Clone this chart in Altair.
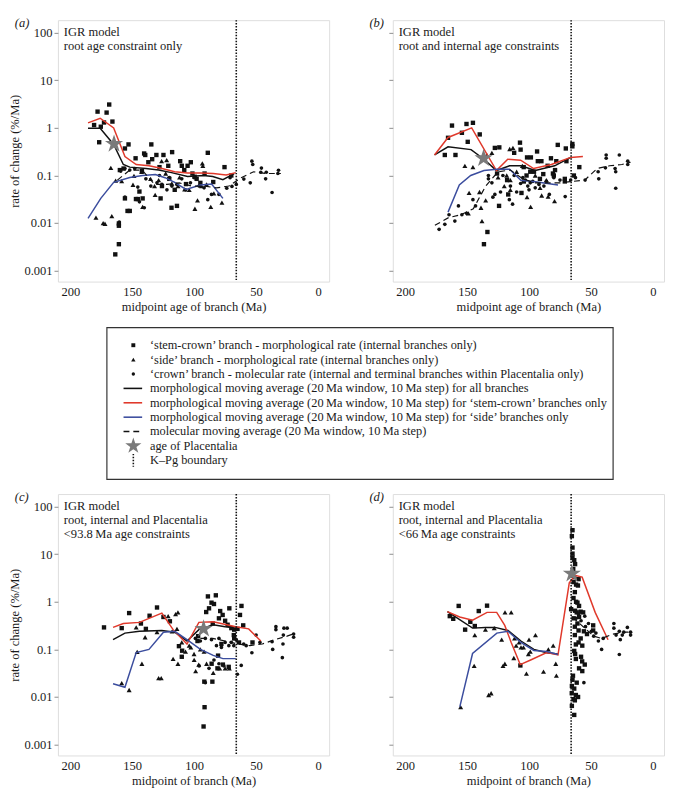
import altair as alt
import pandas as pd

FONT = "Liberation Serif"
FS = 12.8
LEG_FS = 12.6
TXT = "#1a1a1a"
FRAME = "#8c8c8c"
RED = "#e0392b"
BLUE = "#3b4d9e"
STAR_PATH = ("M0,-1L0.224,-0.309L0.951,-0.309L0.363,0.118L0.588,0.809L0,0.382"
             "L-0.588,0.809L-0.363,0.118L-0.951,-0.309L-0.224,-0.309Z")

W, H = 277, 267
X_DOMAIN = [-9, 210]
Y_DOMAIN = [0.00059, 184]
X_TICKS = [200, 150, 100, 50, 0]
Y_TICKS = [0.001, 0.01, 0.1, 1, 10, 100]
KPG = 66

# ---------------- panel (a) ----------------
a_squares = [(168.6,3.1),(178,2.2),(170.7,2.1),(180.8,1.15),(175.4,1.06),(172.8,1.3),(166,1.36),
             (176.7,0.50),(155.9,0.37),(153,0.45),(134.6,0.45),(140.4,0.29),(139.5,0.27),(147.3,0.23),
             (130.5,0.27),(124.8,0.27),(117.8,0.31),(133.9,0.22),(120.9,0.16),(111.3,0.2),(105.3,0.16),
             (102.7,0.19),(110,0.16),(89,0.3),(91.6,0.11),(99.6,0.094),(101.4,0.11),(75.5,0.15),(70,0.1),
             (137,0.19),(128,0.15),(142.2,0.124),(160,0.13),(157,0.14),(144.2,0.046),(155.9,0.033),
             (153.8,0.018),(152,0.018),(145.5,0.032),(141.6,0.033),(127.1,0.033),(118.3,0.021),
             (113.9,0.023),(106.6,0.066),(115.7,0.05),(120.1,0.085),(160.8,0.0098),(160.8,0.0088),
             (160.8,0.0036),(163.7,0.0022),(84.6,0.073),(95,0.07),(108,0.13),(126,0.06),(98,0.085),(147,0.032)]
a_triangles = [(167.3,0.145),(179.3,0.013),(173.5,0.010),(172,0.0097),(166.5,0.014),(163.4,0.078),
               (158.5,0.076),(148.6,0.098),(142.4,0.12),(135.2,0.085),(131.5,0.039),(126.3,0.20),
               (122.2,0.21),(128.7,0.08),(111.8,0.091),(107.7,0.051),(99.4,0.020),(97.3,0.030),(93.4,0.18),
               (93,0.16),(86.6,0.022),(84.1,0.042),(77.6,0.027),(141.6,0.022),(149.4,0.064),(118,0.068),
               (113,0.06),(123,0.11),(132,0.06),(104,0.05),(90,0.065),(94,0.06)]
a_dots = [(159.3,0.124),(155.9,0.14),(145.5,0.057),(144.2,0.028),(140.3,0.021),(155.9,0.035),(160.5,0.0105),
          (152,0.13),(148,0.14),(135,0.06),(130,0.07),(126,0.065),(122,0.05),(118,0.06),(114,0.065),
          (110,0.085),(107,0.05),(103,0.07),(100,0.09),(96,0.06),(92,0.055),(89,0.031),(86,0.04),(80,0.04),
          (73.7,0.054),(69.5,0.059),(59.9,0.084),(53.4,0.20),(52.7,0.17),(54.7,0.070),(45.7,0.143),
          (46.2,0.117),(41.8,0.117),(42.3,0.085),(37.1,0.044),(31.9,0.129),(32.4,0.11),(66,0.065),
          (71,0.09),(120,0.09),(128,0.1),(139,0.085)]
a_all_avg = [(185.7,0.98),(175.9,0.98),(165,0.45),(157.2,0.17),(152,0.15),(139,0.14),(128.7,0.13),
             (118.3,0.115),(105.3,0.095),(92.4,0.10),(85,0.095),(76.8,0.082),(67.7,0.11)]
a_stem_avg = [(185.7,1.28),(175.9,1.6),(165,1.0),(155.9,0.25),(146.8,0.17),(136.4,0.16),(126,0.14),
              (115.7,0.12),(105.3,0.113),(94.9,0.113),(84.6,0.11),(74.2,0.103),(66.4,0.115)]
a_side_avg = [(185.7,0.0126),(175.4,0.033),(165,0.072),(152,0.091),(141.6,0.10),(131.3,0.105),
              (123.5,0.09),(115.7,0.072),(106.6,0.051),(94.9,0.063),(85.9,0.066),(76.8,0.033)]
a_mol_avg = [(162,0.08),(152,0.13),(142,0.13),(132,0.065),(122,0.065),(112,0.07),(102,0.06),(92,0.06),
             (82,0.055),(72,0.06),(62,0.09),(52,0.12),(42,0.11),(30,0.11)]
a_star = [(164.7,0.46)]
a_notes = ["IGR model", "root age constraint only"]

# ---------------- panel (b) ----------------
b_squares = [(162.2,1.12),(150.5,1.21),(145.3,1.28),(165.4,0.62),(154.2,0.79),(149.5,0.51),(139.8,0.73),
             (168,0.27),(159.4,0.27),(133.6,0.0065),(136.4,0.0036),(127.6,0.38),(124,0.39),(125.8,0.11),
             (124.2,0.023),(116.8,0.04),(107.3,0.49),(106.8,0.35),(101.6,0.24),(98.5,0.24),(93.5,0.32),
             (92.9,0.2),(102,0.10),(99,0.12),(88.5,0.107),(82.3,0.23),(80.7,0.11),(76.8,0.44),(70.3,0.37),
             (65,0.46),(65,0.41),(69.8,0.2),(71.1,0.085),(71.1,0.075),(59.4,0.15),(63.8,0.1),(91.2,0.085),
             (104.2,0.075),(106.1,0.043),(117.7,0.08),(112,0.3),(85,0.16),(78,0.2),(90,0.2),(104.3,0.15),
             (96,0.12),(79,0.13),(80,0.1)]
b_triangles = [(151.8,0.16),(145.3,0.15),(134.1,0.27),(130,0.3),(115.6,0.36),(113,0.38),(115.1,0.08),
               (148.4,0.043),(149,0.016),(138.8,0.021),(138,0.011),(115.1,0.05),(125,0.091),(98.7,0.022),
               (101.6,0.035),(89.8,0.038),(84.6,0.036),(79.4,0.029),(105.4,0.16),(91.1,0.055),(118,0.1),
               (110,0.12),(95,0.1),(86,0.08),(120,0.06),(135,0.03),(140,0.045)]
b_dots = [(172.6,0.0074),(168,0.0094),(164.6,0.015),(159.9,0.011),(157,0.023),(154.2,0.015),(150.3,0.016),
          (145.3,0.031),(143.2,0.023),(132.8,0.1),(132.8,0.085),(129.2,0.035),(127.6,0.04),(121.1,0.1),
          (115.9,0.031),(113.3,0.025),(115,0.06),(112,0.1),(106.8,0.068),(103,0.08),(101,0.06),(99,0.07),
          (97,0.075),(95,0.055),(92,0.065),(88,0.06),(86,0.075),(80,0.09),(75,0.08),(70.8,0.036),
          (66.4,0.08),(62.5,0.09),(54.7,0.08),(44.2,0.12),(43.7,0.085),(38.3,0.145),(37.7,0.27),
          (37.7,0.23),(30.5,0.14),(30,0.12),(30,0.054),(27.1,0.27),(20.3,0.2),(20.3,0.17),(123,0.045),
          (110,0.045),(100,0.05),(105,0.09),(130,0.07),(83.6,0.04)]
b_all_avg = [(176.3,0.27),(165.4,0.4),(146.8,0.35),(136.4,0.22),(126.3,0.127),(115.7,0.16),(106.6,0.16),
             (94.9,0.127),(79.3,0.16),(66.4,0.24)]
b_stem_avg = [(176.3,0.27),(165.4,0.63),(146.3,1.0),(126.3,0.127),(117.2,0.22),(106.8,0.21),(96.3,0.14),
              (82,0.17),(66.4,0.24),(56.5,0.25)]
b_side_avg = [(165.4,0.017),(156.3,0.063),(147.1,0.1),(136.4,0.127),(126,0.135),(115.7,0.135),
              (106.6,0.079),(94.9,0.074),(76.6,0.063)]
b_mol_avg = [(176,0.009),(165,0.013),(155,0.015),(145,0.02),(135,0.06),(125,0.12),(115,0.13),(105,0.085),
             (95,0.07),(85,0.07),(75,0.07),(65,0.075),(55,0.08),(45,0.14),(35,0.16),(25,0.17),(18,0.19)]
b_star = [(136.7,0.23)]
b_notes = ["IGR model", "root and internal age constraints"]

# ---------------- panel (c) ----------------
c_squares = [(172.8,0.29),(158.5,0.28),(152.5,0.58),(143,0.35),(136,0.51),(130,0.76),(124.8,0.48),
             (119.6,0.39),(139,0.27),(88.9,1.3),(82.5,1.37),(86,0.96),(84,0.9),(88,0.73),(90.3,0.61),
             (79,0.64),(77,0.53),(71.6,0.73),(61.8,0.82),(63,0.53),(60.4,0.32),(73,0.33),(67.7,0.26),
             (67.7,0.17),(63.8,0.14),(78,0.13),(96.8,0.19),(80.7,0.074),(85.9,0.05),(81.2,0.04),
             (91.8,0.021),(85.3,0.021),(91.6,0.0061),(92.4,0.0024),(112.3,0.117),(109.7,0.094),
             (97.3,0.15),(65,0.27),(70,0.28),(52.9,0.14),(75,0.4),(80,0.45),(85,0.35),(68,0.2),
             (76.8,0.048),(72.1,0.043),(110,0.07)]
c_triangles = [(158.5,0.0195),(152.5,0.014),(146.8,0.29),(139.6,0.18),(130,0.23),(146,0.089),(142.2,0.05),
               (128.7,0.025),(126.6,0.025),(121,0.5),(115,0.55),(113.1,0.6),(117.8,0.24),(113.9,0.27),
               (117,0.063),(113.1,0.05),(102.7,0.11),(100.1,0.08),(96.3,0.048),(98.8,0.035),(84.6,0.032),
               (79.4,0.04),(75,0.04),(71.6,0.04),(107,0.09),(104,0.12),(110,0.14),(95,0.1),(92,0.09),
               (90,0.05),(100,0.06)]
c_dots = [(91,0.02),(91,0.17),(86,0.16),(80,0.17),(75,0.14),(70,0.14),(66,0.16),(60,0.13),(65.1,0.03),
          (62,0.046),(53.4,0.085),(46.9,0.14),(37.1,0.145),(36.6,0.1),(34,0.3),(34,0.26),(27.5,0.28),
          (28,0.2),(28.3,0.13),(28.8,0.067),(24.9,0.28),(19.7,0.18),(19.7,0.21),(95,0.15),(82,0.12),
          (78,0.11),(72,0.12),(68,0.12),(58,0.12),(50,0.2),(88,0.04),(84,0.06),(80,0.05),(76,0.045),
          (96,0.045),(99,0.17)]
c_all_avg = [(165.5,0.16),(155.9,0.22),(144.2,0.24),(126.1,0.25),(115.7,0.23),(105.8,0.15),(96.2,0.26),
             (84.6,0.33),(75,0.3),(66.4,0.28)]
c_stem_avg = [(165.5,0.29),(157.2,0.35),(144.2,0.37),(126.1,0.58),(117,0.26),(105.8,0.13),(96.2,0.37),
              (84.6,0.38),(66.4,0.3),(56,0.27),(46.2,0.15)]
c_side_avg = [(165.5,0.019),(155.9,0.016),(146.8,0.086),(136.5,0.1),(124.8,0.23),(115.7,0.24),
              (105.8,0.16),(94.9,0.1),(84.6,0.075),(76.8,0.064),(66.4,0.064)]
c_mol_avg = [(95,0.17),(85,0.17),(75,0.15),(65,0.13),(55,0.12),(45,0.13),(35,0.16),(25,0.19),(18,0.22)]
c_star = [(92.4,0.27)]
c_notes = ["IGR model", "root, internal and Placentalia", "<93.8\u2009Ma age constraints"]

# ---------------- panel (d) ----------------
d_squares = [(161.2,0.44),(156.8,0.82),(151.6,0.26),(147.4,0.38),(143.8,0.31),(140.6,0.64),(133.9,0.83),
             (164,0.5),(107,0.046),
             (64.9,32),(65.4,24),(64.9,13.8),(64.9,10.3),(64.9,8.5),(63.5,7.5),(62.8,6.2),(64.3,4.9),
             (63.5,3.3),(62,2.3),(60.5,2.2),(63,1.6),(64.1,1.2),(60.9,0.96),(59.6,0.82),(62.8,0.65),
             (61.5,0.6),(58.3,0.62),(56.3,0.6),(59.6,0.48),(64,0.45),(60.9,0.35),(48.2,0.32),(48.2,0.25),
             (53.2,0.21),(55.7,0.24),(58.3,0.17),(60,0.14),(62.2,0.127),(63.5,0.093),(62.8,0.08),
             (62.2,0.063),(57.1,0.056),(55,0.048),(59.6,0.04),(57,0.035),(64.9,0.023),(61.5,0.02),
             (65.4,0.017),(63.5,0.015),(62.2,0.011),(64.1,0.009),(63,0.0085),(60.4,0.01),(63.5,0.0042),
             (65.4,0.0065),(63,0.3),(60,0.25),(57,0.12),(66,0.7),(62,1.0),(64,2.6),(60,3.0),(63,0.2),
             (58,0.07),(65.5,0.012),(64.5,0.028)]
d_triangles = [(155.2,0.0061),(132.6,0.011),(130.6,0.012),(144.3,0.045),(121,0.045),(119.5,0.05),
               (143.8,0.2),(135.2,0.26),(128.1,0.28),(122.1,0.16),(119.4,0.6),(114.4,0.6),(111.7,0.17),
               (110.4,0.12),(106.5,0.11),(104.5,0.11),(112.3,0.066),(102.1,0.031),(100.5,0.08),(100,0.16),
               (94.8,0.2),(88.3,0.034),(84.4,0.1),(80.5,0.12),(78.4,0.05),(77.9,0.028),(99,0.09),(108,0.14)]
d_dots = [(54.4,0.3),(49.7,0.24),(47.8,0.19),(40.1,0.17),(41.4,0.1),(31.5,0.35),(31.5,0.28),(29.7,0.2),
          (27.1,0.24),(26.3,0.16),(27.1,0.078),(24.7,0.2),(23.5,0.23),(20.6,0.29),(18,0.23),(18,0.2),
          (55.7,0.02),(58,0.4),(55,0.5),(52,0.35),(46,0.22),(44,0.15),(62,0.45),(60,0.55)]
d_all_avg = [(165.9,0.62),(145.6,0.28),(135.2,0.29),(127.4,0.29),(117,0.25),(106.5,0.15),(96.1,0.1),
             (85.7,0.085),(76.6,0.08)]
d_stem_avg = [(165.9,0.62),(156,0.48),(145.6,0.41),(133.9,0.6),(126.1,0.6),(119.6,0.32),(114.4,0.14),
              (107.1,0.048),(98.7,0.06),(85.7,0.086),(76.6,0.077),(67.5,2.5),(62.8,3.6),(57.1,3.3),
              (46.6,0.6),(36.2,0.16)]
d_side_avg = [(155.9,0.0062),(145.6,0.082),(126,0.22),(117,0.24),(106.6,0.14),(96.1,0.095),(85.7,0.09),
              (76.6,0.078)]
d_mol_avg = [(64.9,0.48),(55.7,0.29),(47.8,0.19),(41.4,0.17),(32.4,0.21),(21.9,0.23),(17.5,0.23)]
d_star = [(65.4,3.9)]
d_notes = ["IGR model", "root, internal and Placentalia", "<66\u2009Ma age constraints"]

# ---------------- legend ----------------
legend_labels = [
    "\u2018stem-crown\u2019 branch - morphological rate (internal branches only)",
    "\u2018side\u2019 branch - morphological rate (internal branches only)",
    "\u2018crown\u2019 branch - molecular rate (internal and terminal branches within Placentalia only)",
    "morphological moving average (20\u2009Ma window, 10\u2009Ma step) for all branches",
    "morphological moving average (20\u2009Ma window, 10\u2009Ma step) for \u2018stem-crown\u2019 branches only",
    "morphological moving average (20\u2009Ma window, 10\u2009Ma step) for \u2018side\u2019 branches only",
    "molecular moving average (20\u2009Ma window, 10\u2009Ma step)",
    "age of Placentalia",
    "K\u2013Pg boundary",
]


def frame(pairs):
    return pd.DataFrame({"age": [p[0] for p in pairs], "rate": [p[1] for p in pairs]})


def encodings(xtitle, ylabels):
    x = alt.X("age:Q",
              scale=alt.Scale(domain=X_DOMAIN, reverse=True, nice=False, zero=False),
              axis=alt.Axis(values=X_TICKS, title=xtitle, ticks=False, domain=False, grid=False,
                            labelPadding=4, titlePadding=3, labelFont=FONT, titleFont=FONT,
                            labelFontSize=FS, titleFontSize=FS, titleFontWeight="normal",
                            labelColor=TXT, titleColor=TXT))
    if ylabels:
        yaxis = alt.Axis(values=Y_TICKS, format="~g", title="rate of change (%/Ma)", domain=False,
                         grid=False, tickColor=FRAME, tickSize=4, labelPadding=2, titlePadding=2,
                         labelFont=FONT, titleFont=FONT, labelFontSize=FS, titleFontSize=FS,
                         titleFontWeight="normal", labelColor=TXT, titleColor=TXT)
    else:
        yaxis = alt.Axis(values=Y_TICKS, labels=False, title=None, domain=False, grid=False,
                         tickColor=FRAME, tickSize=4)
    y = alt.Y("rate:Q", scale=alt.Scale(type="log", domain=Y_DOMAIN, nice=False), axis=yaxis)
    return x, y


def panel(tag, notes, squares, triangles, dots, all_avg, stem_avg, side_avg, mol_avg, star,
          xtitle, ylabels):
    x, y = encodings(xtitle, ylabels)
    one = alt.Data(values=[{"k": 1}])
    sq = alt.Chart(frame(squares)).mark_point(shape="square", filled=True, size=20, color="#111",
                                              opacity=1).encode(x=x, y=y)
    tr = alt.Chart(frame(triangles)).mark_point(shape="triangle-up", filled=True, size=26,
                                                color="#111", opacity=1).encode(x=x, y=y)
    dt = alt.Chart(frame(dots)).mark_circle(size=14, color="#111", opacity=1).encode(x=x, y=y)
    l_all = alt.Chart(frame(all_avg)).mark_line(color="#111", strokeWidth=1.5).encode(x=x, y=y)
    l_stem = alt.Chart(frame(stem_avg)).mark_line(color=RED, strokeWidth=1.5).encode(x=x, y=y)
    l_side = alt.Chart(frame(side_avg)).mark_line(color=BLUE, strokeWidth=1.5).encode(x=x, y=y)
    l_mol = alt.Chart(frame(mol_avg)).mark_line(color="#111", strokeWidth=1.2,
                                                strokeDash=[6, 4]).encode(x=x, y=y)
    kpg = alt.Chart(pd.DataFrame({"age": [KPG]})).mark_rule(
        color="#111", strokeWidth=1.6, strokeDash=[1.5, 1.5]).encode(x=x)
    st = alt.Chart(frame(star)).mark_point(shape=STAR_PATH, filled=True, size=380, color="#7a7a7a",
                                           opacity=1).encode(x=x, y=y)
    note = alt.Chart(one).mark_text(text=notes, align="left", baseline="top", font=FONT,
                                    fontSize=FS, lineHeight=14.5, color=TXT).encode(
        x=alt.value(6), y=alt.value(6))
    lab = alt.Chart(one).mark_text(text=tag, align="left" if ylabels else "right",
                                   baseline="top", font=FONT, fontSize=FS,
                                   fontStyle="italic", color=TXT).encode(
        x=alt.value(-44 if ylabels else -9), y=alt.value(-3))
    return alt.layer(sq, tr, dt, l_all, l_stem, l_side, l_mol, kpg, st, note, lab).properties(
        width=W, height=H)


pa = panel("(a)", a_notes, a_squares, a_triangles, a_dots, a_all_avg, a_stem_avg, a_side_avg,
           a_mol_avg, a_star, "midpoint age of branch (Ma)", True)
pb = panel("(b)", b_notes, b_squares, b_triangles, b_dots, b_all_avg, b_stem_avg, b_side_avg,
           b_mol_avg, b_star, "midpoint age of branch (Ma)", False)
pc = panel("(c)", c_notes, c_squares, c_triangles, c_dots, c_all_avg, c_stem_avg, c_side_avg,
           c_mol_avg, c_star, "midpoint of branch (Ma)", True)
pd_ = panel("(d)", d_notes, d_squares, d_triangles, d_dots, d_all_avg, d_stem_avg, d_side_avg,
            d_mol_avg, d_star, "midpoint of branch (Ma)", False)

# ---------------- legend chart (positions relative to panel (a) plot origin) ----------------
LEG_TOP, LEG_BOX_H = 3, 155
LH = LEG_TOP + LEG_BOX_H
ROW_STEP = 14.7
FIRST_ROW = LEG_TOP + 18
Y0 = -FIRST_ROW / ROW_STEP
Y1 = Y0 + LH / ROW_STEP
BOX_L, BOX_R = 50, 567
SYM_X, LINE_X0, LINE_X1, TEXT_X = 77, 67, 86, 94
LW = BOX_R + 2
yscale = alt.Scale(domain=[Y0, Y1], reverse=True, nice=False, zero=False)
yl = alt.Y("row:Q", scale=yscale, axis=None)
box = alt.Chart(alt.Data(values=[{"k": 1}])).mark_rect(
    fillOpacity=0, stroke="#333", strokeWidth=1.2).encode(
    x=alt.value(BOX_L), x2=alt.value(BOX_R), y=alt.value(LEG_TOP), y2=alt.value(LH))
leg_text = alt.Chart(pd.DataFrame({"row": list(range(len(legend_labels))), "label": legend_labels})
                     ).mark_text(align="left", baseline="middle", font=FONT, fontSize=LEG_FS,
                                 color=TXT).encode(x=alt.value(TEXT_X), y=yl, text="label:N")


def row_df(r):
    return pd.DataFrame({"row": [r]})


leg_sq = alt.Chart(row_df(0)).mark_point(shape="square", filled=True, size=16, color="#111",
                                         opacity=1).encode(x=alt.value(SYM_X), y=yl)
leg_tr = alt.Chart(row_df(1)).mark_point(shape="triangle-up", filled=True, size=20, color="#111",
                                         opacity=1).encode(x=alt.value(SYM_X), y=yl)
leg_dt = alt.Chart(row_df(2)).mark_circle(size=12, color="#111", opacity=1).encode(
    x=alt.value(SYM_X), y=yl)
leg_l1 = alt.Chart(row_df(3)).mark_rule(color="#111", strokeWidth=1.6).encode(
    x=alt.value(LINE_X0), x2=alt.value(LINE_X1), y=yl)
leg_l2 = alt.Chart(row_df(4)).mark_rule(color=RED, strokeWidth=1.6).encode(
    x=alt.value(LINE_X0), x2=alt.value(LINE_X1), y=yl)
leg_l3 = alt.Chart(row_df(5)).mark_rule(color=BLUE, strokeWidth=1.6).encode(
    x=alt.value(LINE_X0), x2=alt.value(LINE_X1), y=yl)
leg_l4 = alt.Chart(row_df(6)).mark_rule(color="#111", strokeWidth=1.6, strokeDash=[6, 4]).encode(
    x=alt.value(LINE_X0), x2=alt.value(LINE_X1), y=yl)
leg_star = alt.Chart(row_df(7)).mark_point(shape=STAR_PATH, filled=True, size=300, color="#7a7a7a",
                                           opacity=1).encode(x=alt.value(SYM_X), y=yl)
leg_kpg = alt.Chart(row_df(8)).transform_calculate(
    r1="datum.row - 0.45", r2="datum.row + 0.45").mark_rule(
    color="#111", strokeWidth=1.6, strokeDash=[1.5, 1.5]).encode(
    x=alt.value(SYM_X), y=alt.Y("r1:Q", scale=yscale, axis=None), y2="r2:Q")
legend = alt.layer(box, leg_sq, leg_tr, leg_dt, leg_l1, leg_l2, leg_l3, leg_l4, leg_star, leg_kpg,
                   leg_text).properties(width=LW, height=LH,
                                        view=alt.ViewBackground(stroke="transparent"))

top = alt.hconcat(pa, pb, spacing=39)
bottom = alt.hconcat(pc, pd_, spacing=39)
chart = alt.vconcat(top, legend, bottom, spacing=9).properties(
    padding={"left": 0, "top": 0, "right": 0, "bottom": 0}).configure_view(
    stroke=FRAME, strokeWidth=1).configure(font=FONT)

chart.save("out.html", embed_options={"renderer": "svg", "actions": False})
